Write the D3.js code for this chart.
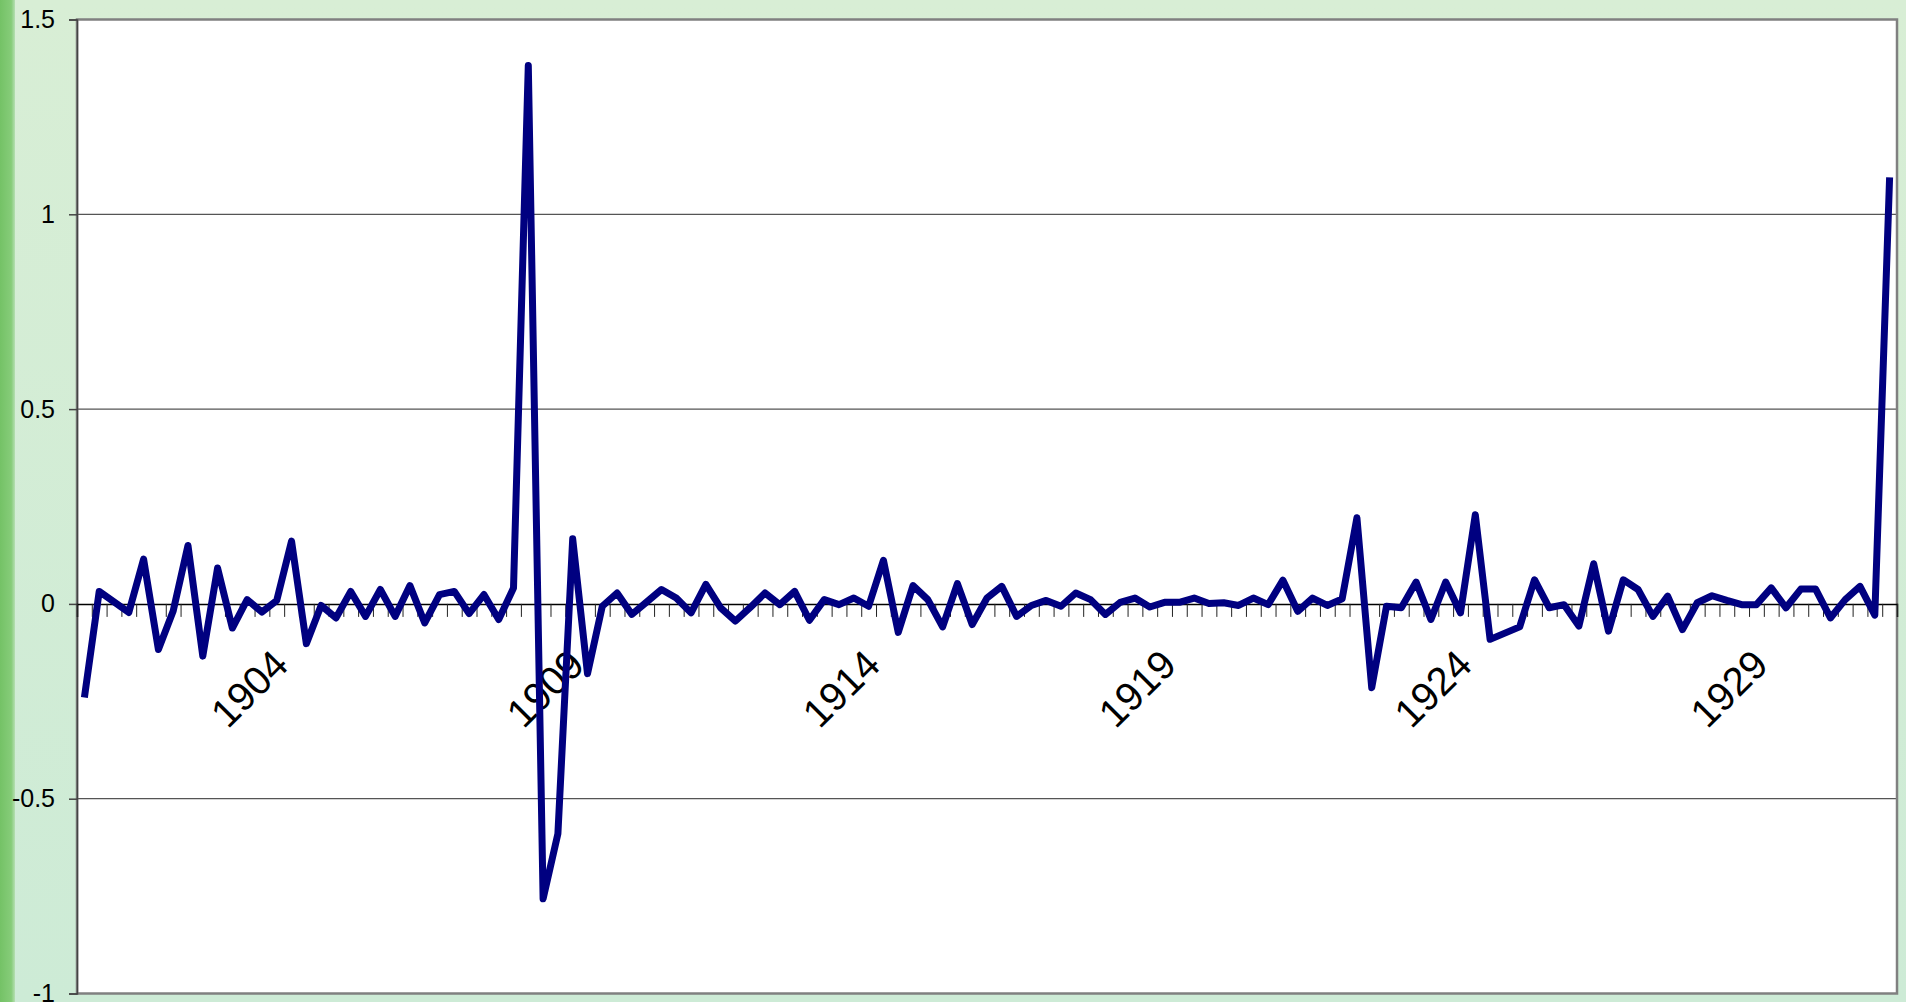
<!DOCTYPE html>
<html>
<head>
<meta charset="utf-8">
<script src="https://cdn.jsdelivr.net/npm/d3@7"></script>
<style>
  html, body { margin: 0; padding: 0; background: #d5ecd3; }
  svg { display: block; }
  text { font-family: "Liberation Sans", Arial, sans-serif; fill: #000; }
</style>
</head>
<body>
<svg id="chart" width="1906" height="1002"></svg>
<script>
// Quarterly series, first quarter 1900 Q3, last quarter 1931 Q1
const startYear = 1900;
const startQuarter = 3;
const quarterCount = 123;
const categories = d3.range(quarterCount).map(i => {
  const q = startQuarter - 1 + i;
  return (startYear + Math.floor(q / 4)) + " Q" + (q % 4 + 1);
});

const values = [
  -0.240, 0.032, 0.005, -0.022, 0.115, -0.117, -0.018, 0.150, -0.134, 0.092,
  -0.062, 0.011, -0.021, 0.009, 0.161, -0.102, -0.004, -0.036, 0.032, -0.032,
  0.037, -0.032, 0.047, -0.049, 0.024, 0.032, -0.025, 0.024, -0.040, 0.041,
  1.382, -0.757, -0.590, 0.167, -0.179, -0.006, 0.028, -0.027, 0.005, 0.037,
  0.015, -0.023, 0.050, -0.010, -0.044, -0.009, 0.028, -0.002, 0.032, -0.042,
  0.011, -0.002, 0.015, -0.006, 0.112, -0.073, 0.047, 0.011, -0.059, 0.052,
  -0.053, 0.015, 0.045, -0.032, -0.004, 0.009, -0.006, 0.028, 0.011, -0.027,
  0.004, 0.015, -0.008, 0.004, 0.004, 0.015, 0.001, 0.003, -0.004, 0.015,
  -0.002, 0.061, -0.019, 0.015, -0.004, 0.013, 0.221, -0.215, -0.006, -0.010,
  0.056, -0.040, 0.056, -0.023, 0.229, -0.091, -0.075, -0.059, 0.062, -0.010,
  -0.002, -0.057, 0.103, -0.070, 0.062, 0.037, -0.032, 0.020, -0.066, 0.003,
  0.021, 0.009, -0.002, -0.002, 0.041, -0.010, 0.038, 0.038, -0.036, 0.011,
  0.045, -0.029, 1.095
];

// Year labels shown on the category axis (placed at the first quarter of each year)
const tickLabels = ["1904", "1909", "1914", "1919", "1924", "1929"];
const yTicks = [-1, -0.5, 0, 0.5, 1, 1.5];

const svg = d3.select("#chart");
const W = 1906, H = 1002;
const plot = { left: 77, right: 1897, top: 19.5, bottom: 993.5 };

// ---- background ----
const defs = svg.append("defs");
const edge = defs.append("linearGradient").attr("id", "edgeGrad")
  .attr("x1", "0").attr("x2", "1").attr("y1", "0").attr("y2", "0");
edge.append("stop").attr("offset", "0").attr("stop-color", "#74c266");
edge.append("stop").attr("offset", "0.75").attr("stop-color", "#86cc79");
edge.append("stop").attr("offset", "1").attr("stop-color", "#b5dfb2");

const soft = defs.append("linearGradient").attr("id", "softGrad")
  .attr("x1", "0").attr("x2", "0").attr("y1", "0").attr("y2", "1");
soft.append("stop").attr("offset", "0").attr("stop-color", "#d8eed5");
soft.append("stop").attr("offset", "1").attr("stop-color", "#cdebd6");

svg.append("rect").attr("width", W).attr("height", H).attr("fill", "url(#softGrad)");
svg.append("rect").attr("x", 0).attr("y", 0).attr("width", 15).attr("height", H)
  .attr("fill", "url(#edgeGrad)");

// ---- scales ----
const x = d3.scaleBand().domain(categories).range([plot.left, plot.right]).paddingInner(0).paddingOuter(0);
const xEdges = d3.scaleLinear().domain([0, quarterCount]).range([plot.left, plot.right]);
const y = d3.scaleLinear().domain([-1, 1.5]).range([plot.bottom, plot.top]);
const cx = c => x(c) + x.bandwidth() / 2;

// ---- plot area ----
svg.append("rect")
  .attr("x", plot.left).attr("y", plot.top)
  .attr("width", plot.right - plot.left).attr("height", plot.bottom - plot.top)
  .attr("fill", "#ffffff");

// horizontal gridlines
svg.append("g").selectAll("line")
  .data(yTicks.filter(d => d !== 0 && d !== -1 && d !== 1.5))
  .join("line")
  .attr("x1", plot.left).attr("x2", plot.right)
  .attr("y1", d => y(d)).attr("y2", d => y(d))
  .attr("stroke", "#555").attr("stroke-width", 1.3);

// plot border
svg.append("rect")
  .attr("x", plot.left).attr("y", plot.top)
  .attr("width", plot.right - plot.left).attr("height", plot.bottom - plot.top)
  .attr("fill", "none").attr("stroke", "#808080").attr("stroke-width", 2.5);

// value axis
const yAxis = svg.append("g")
  .attr("transform", `translate(${plot.left},0)`)
  .call(d3.axisLeft(y).tickValues(yTicks).tickSize(8).tickPadding(14).tickFormat(d => String(d)));
yAxis.select(".domain").attr("stroke", "#444").attr("stroke-width", 1.5);
yAxis.selectAll(".tick line").attr("stroke", "#444").attr("stroke-width", 1.5);
yAxis.selectAll(".tick text")
  .style("font-family", '"Liberation Sans", Arial, sans-serif')
  .style("font-size", "25px").attr("fill", "#000");

// category axis along zero
const xAxis = svg.append("g")
  .attr("transform", `translate(0,${y(0)})`)
  .call(d3.axisBottom(xEdges).tickValues(d3.range(quarterCount + 1)).tickSize(13).tickFormat(""));
xAxis.select(".domain").attr("stroke", "#000").attr("stroke-width", 1.5);
xAxis.selectAll(".tick line").attr("stroke", "#222").attr("stroke-width", 1);

// year labels, rotated
const labelled = categories.filter(c => c.endsWith("Q1") && tickLabels.includes(c.slice(0, 4)));
svg.append("g").selectAll("text")
  .data(labelled)
  .join("text")
  .attr("transform", c => `translate(${cx(c) - 1},${y(0) + 63}) rotate(-45)`)
  .attr("text-anchor", "end")
  .style("font-size", "40px")
  .text(c => c.slice(0, 4));

// ---- series line ----
const line = d3.line()
  .x((d, i) => cx(categories[i]))
  .y(d => y(d));

svg.append("path")
  .datum(values)
  .attr("d", line)
  .attr("fill", "none")
  .attr("stroke", "#000080")
  .attr("stroke-width", 7)
  .attr("stroke-linejoin", "round")
  .attr("stroke-linecap", "butt");
</script>
</body>
</html>
